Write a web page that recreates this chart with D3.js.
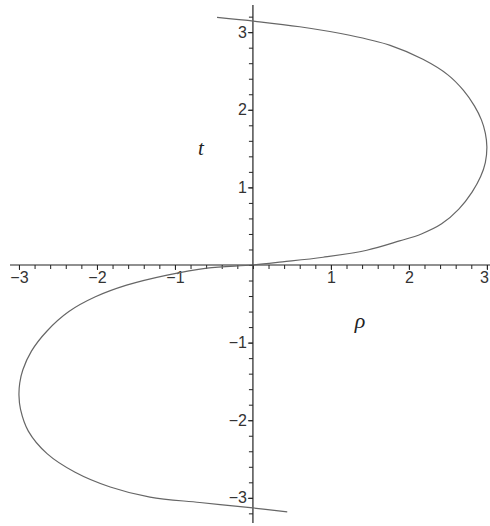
<!DOCTYPE html>
<html>
<head>
<meta charset="utf-8">
<script src="https://cdn.jsdelivr.net/npm/d3@7"></script>
<style>
  body { margin: 0; background: #fff; }
  svg { display: block; }
</style>
</head>
<body>
<div id="chart"></div>
<script>
// points, [rho, t]
const rho = [-0.46, 0.03, 0.60, 1.24, 1.76, 2.18, 2.50, 2.70, 2.84, 2.93, 2.98, 3.0, 2.98, 2.92, 2.81, 2.64, 2.42, 2.16, 1.88, 1.46, 0.90, 0.38, 0,
  -0.59, -1.10, -1.62, -2.02, -2.36, -2.64, -2.84, -2.95, -2.99, -3.0, -2.98, -2.88, -2.64, -2.28, -1.83, -1.32, -0.68, 0, 0.44];
const tval = [3.19, 3.14, 3.07, 2.96, 2.83, 2.65, 2.45, 2.25, 2.05, 1.87, 1.70, 1.52, 1.32, 1.14, 0.94, 0.72, 0.53, 0.40, 0.31, 0.19, 0.10, 0.04, 0,
  -0.04, -0.13, -0.26, -0.41, -0.60, -0.85, -1.11, -1.35, -1.52, -1.68, -1.86, -2.14, -2.43, -2.67, -2.86, -2.99, -3.06, -3.13, -3.18];
const xMajor = [-3, -2, -1, 1, 2, 3];
const yMajor = [-3, -2, -1, 1, 2, 3];
const xMinor = d3.range(-15, 16).map(d => d / 5);
const yMinor = d3.range(-16, 17).map(d => d / 5);

const W = 490, H = 526;
const svg = d3.select("#chart").append("svg")
  .attr("width", W).attr("height", H);

const x = d3.scaleLinear().domain([-3.115, 3.04]).range([10, 490]);
const y = d3.scaleLinear().domain([-3.35, 3.35]).range([525, 5]);

const axisColor = "#222";

// x axis: minor then major ticks
svg.append("g")
  .attr("transform", `translate(0,${y(0)})`)
  .call(d3.axisBottom(x).tickValues(xMinor).tickSize(4).tickFormat(""))
  .call(g => g.select(".domain").remove());
svg.append("g")
  .attr("class", "xmaj")
  .attr("transform", `translate(0,${y(0)})`)
  .call(d3.axisBottom(x).tickValues(xMajor).tickSize(5).tickPadding(2)
    .tickFormat(d => d < 0 ? "\u2212" + (-d) : d))
  .call(g => g.select(".domain").remove());
// last label sits at the window edge, nudge it in
svg.selectAll(".xmaj .tick text").filter(d => d === 3).attr("dx", -3);

// y axis
svg.append("g")
  .attr("transform", `translate(${x(0)},0)`)
  .call(d3.axisLeft(y).tickValues(yMinor).tickSize(4).tickFormat(""))
  .call(g => g.select(".domain").remove());
svg.append("g")
  .attr("class", "ymaj")
  .attr("transform", `translate(${x(0)},0)`)
  .call(d3.axisLeft(y).tickValues(yMajor).tickSize(5).tickPadding(1)
    .tickFormat(d => d < 0 ? "\u2212" + (-d) : d))
  .call(g => g.select(".domain").remove());

svg.selectAll(".tick line").attr("stroke", axisColor);
svg.selectAll(".tick text")
  .attr("fill", "#333")
  .style("font-family", "'Liberation Sans', Arial, sans-serif")
  .style("font-size", "16px");

// axis lines
svg.append("line")
  .attr("x1", 10).attr("x2", 490)
  .attr("y1", y(0)).attr("y2", y(0))
  .attr("stroke", axisColor).attr("stroke-width", 1.2);
svg.append("line")
  .attr("x1", x(0)).attr("x2", x(0))
  .attr("y1", 5).attr("y2", 523)
  .attr("stroke", axisColor).attr("stroke-width", 1.2);

// the curve
const pts = rho.map((r, i) => [r, tval[i]]);
const line = d3.line()
  .x(d => x(d[0]))
  .y(d => y(d[1]))
  .curve(d3.curveCatmullRom.alpha(0.5));
svg.append("path")
  .datum(pts)
  .attr("d", line)
  .attr("fill", "none")
  .attr("stroke", "#666")
  .attr("stroke-width", 1.2);

// axis names
svg.append("text")
  .attr("x", 201).attr("y", 155)
  .attr("text-anchor", "middle")
  .style("font-family", "'Liberation Serif', 'Times New Roman', serif")
  .style("font-style", "italic")
  .style("font-size", "21px")
  .attr("fill", "#222")
  .text("t");
svg.append("text")
  .attr("x", 360).attr("y", 328)
  .attr("text-anchor", "middle")
  .style("font-family", "'Liberation Serif', 'Times New Roman', serif")
  .style("font-style", "italic")
  .style("font-size", "22px")
  .attr("fill", "#222")
  .text("\u03c1");
</script>
</body>
</html>
